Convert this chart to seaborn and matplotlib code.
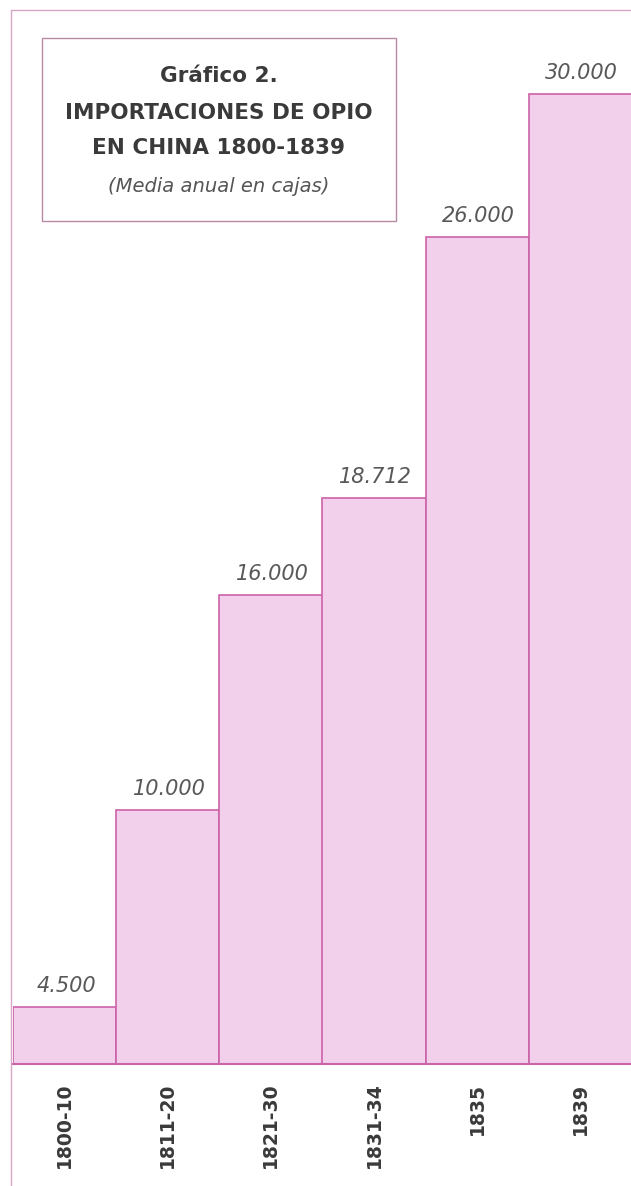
import matplotlib
matplotlib.use("Agg")
import matplotlib.pyplot as plt
import seaborn as sns
import pandas as pd
from matplotlib.lines import Line2D
from matplotlib.patches import Rectangle

# datos del grafico
periodos = ["1800-10", "1811-20", "1821-30", "1831-34", "1835", "1839"]
cajas = [4500, 10000, 16000, 18712, 26000, 30000]
etiquetas = ["4.500", "10.000", "16.000", "18.712", "26.000", "30.000"]

titulo = ["Gráfico 2.", "IMPORTACIONES DE OPIO", "EN CHINA 1800-1839"]
subtitulo = "(Media anual en cajas)"

df = pd.DataFrame({"periodo": periodos, "cajas": cajas})

sns.set_style("white")
plt.rcParams["font.family"] = ["DejaVu Sans"]

relleno = "#f2d0eb"
borde = "#cc62a8"
marco = "#d6a6c6"
texto = "#3a3a3a"

W, H = 631, 1186
fig = plt.figure(figsize=(W / 100, H / 100), dpi=100)
fig.patch.set_facecolor("white")

ax = fig.add_axes([13 / W, 122 / H, 619 / W, 1054 / H])
sns.barplot(data=df, x="periodo", y="cajas", width=1.0, color=relleno,
            saturation=1, edgecolor=borde, linewidth=1.2, ax=ax)

# el eje del original no empieza en cero
ax.set_xlim(-0.5, 5.5)
ax.set_ylim(2905, 32346)

for i, (v, t) in enumerate(zip(cajas, etiquetas)):
    ax.annotate(t, (i, v), xytext=(1, 8), textcoords="offset points",
                ha="center", va="bottom", fontsize=15, style="italic",
                color="#585858")

ax.set_xlabel("")
ax.set_ylabel("")
ax.set_yticks([])
ax.tick_params(axis="x", length=0, pad=13.5, labelsize=13.5, labelrotation=90,
               labelcolor=texto)
for lab in ax.get_xticklabels():
    lab.set_fontweight("bold")

for s in ["top", "right", "left"]:
    ax.spines[s].set_visible(False)
ax.spines["bottom"].set_color(borde)
ax.spines["bottom"].set_linewidth(1.5)

# marco exterior
x0 = 11 / W
ytop = 1176 / H
fig.add_artist(Line2D([x0, x0], [0, ytop], transform=fig.transFigure,
                      color=marco, lw=1.0))
fig.add_artist(Line2D([x0, 1], [ytop, ytop], transform=fig.transFigure,
                      color=marco, lw=1.0))

# recuadro del titulo
fig.add_artist(Rectangle((42 / W, 965 / H), 354 / W, 183 / H,
                         transform=fig.transFigure, facecolor="white",
                         edgecolor="#b88aa8", lw=1.0))
cx = 219 / W
for t, y in zip(titulo, [76, 113, 148]):
    fig.text(cx, 1 - y / H, t, ha="center", va="center", fontsize=15.5,
             fontweight="bold", color=texto)
fig.text(cx, 1 - 186 / H, subtitulo, ha="center", va="center", fontsize=14,
         style="italic", color="#555555")

fig.savefig("out.png", dpi=100)
